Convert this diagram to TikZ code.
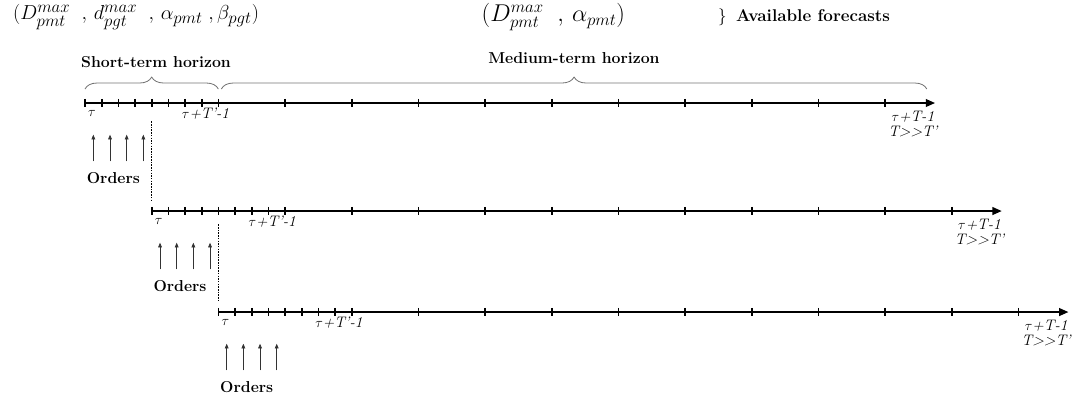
\documentclass[tikz,border=0pt]{standalone}
\usepackage{amsmath,amssymb}
\usepackage{xcolor}
\usepackage{tikz}
\usetikzlibrary{arrows.meta,calc,positioning,decorations.pathreplacing}
\definecolor{bracegray}{gray}{0.45}
\tikzset{
  axis/.style={line width=1.7pt, -{Triangle[length=8pt,width=6.5pt]}},
  tck/.style={line width=1.4pt},
  ordr/.style={line width=0.55pt, black!80, -{Triangle[length=4pt,width=3.2pt]}},
  sep/.style={densely dotted, line width=1.3pt},
  hbrace/.style={decorate, decoration={brace, amplitude=0.36cm}, draw=bracegray, line width=0.7pt},
  lbl/.style={font=\fontsize{13.5}{16}\selectfont\bfseries, inner sep=0pt},
  tlbl/.style={font=\fontsize{13}{13.5}\selectfont\itshape, inner sep=0pt},
  fml/.style={font=\fontsize{19}{23}\selectfont, inner sep=0pt},
  every picture/.style={line join=round}
}

\begin{document}
\begin{tikzpicture}[x=0.5cm,y=0.5cm]
  \useasboundingbox (-5.1,-18.0) rectangle (60.17,6.18);
  % available forecasts
  \node[fml] (fc1) at (3.06,5.16) {$(D^{max}_{pmt}\;\;,\,d^{max}_{pgt}\;\;,\,\alpha_{pmt}\;,\beta_{pgt})$};
  \node[fml, font=\fontsize{20}{24}\selectfont] (fc2) at (28.1,5.16) {$(D^{max}_{pmt}\;\;,\,\alpha_{pmt})$};
  \node[lbl, font=\fontsize{14.5}{17}\selectfont\bfseries, anchor=west] (avail) at (37.97,5.16) {$\}$\;\;Available forecasts};
  % time lines
  \foreach \i/\x/\y in {0/0/0, 1/4/-6.48, 2/8/-12.54} {
    \coordinate (s\i) at (\x,\y);
    \coordinate (e\i) at (\x+51,\y);
    \draw[axis] (s\i) -- (e\i);
    \foreach \k in {0,...,8}
      \draw[tck] ($(s\i)+(\k,0.25)$) -- ($(s\i)+(\k,-0.25)$);
    \foreach \k in {12,16,...,48}
      \draw[tck] ($(s\i)+(\k,0.25)$) -- ($(s\i)+(\k,-0.25)$);
    \node[tlbl] (tau\i) at ($(s\i)+(0.42,-0.62)$) {$\tau$};
    \node[tlbl] (short\i) at ($(s\i)+(7.23,-0.62)$) {$\tau$+T'-1};
    \node[tlbl, align=center, anchor=north east] (end\i) at ($(e\i)+(0.15,-0.45)$) {$\tau$+T-1\\T>\kern0pt>T'};
    \foreach \k in {0.5,1.5,2.5,3.5}
      \draw[ordr] ($(s\i)+(\k,-3.5)$) -- ($(s\i)+(\k,-1.9)$);
    \node[lbl] (ord\i) at ($(s\i)+(1.7,-4.5)$) {Orders};
  }
  % change of period
  \draw[sep] ($(s0)+(4,-1.1)$) -- ($(s1)+(0,0.6)$);
  \draw[sep] ($(s1)+(4,-0.8)$) -- ($(s2)+(0,0.6)$);
  % horizons
  \coordinate (h0) at ($(s0)+(0,0.84)$);
  \coordinate (h1) at ($(s0)+(8,0.84)$);
  \coordinate (h2) at ($(s0)+(8.18,0.84)$);
  \coordinate (h3) at ($(s0)+(50.5,0.84)$);
  \draw[hbrace] (h0) -- (h1);
  \draw[hbrace] (h2) -- (h3);
  \node[lbl] (shorth) at (4.26,2.46) {Short-term horizon};
  \node[lbl] (medh) at (29.33,2.7) {Medium-term horizon};
\end{tikzpicture}
\end{document}
